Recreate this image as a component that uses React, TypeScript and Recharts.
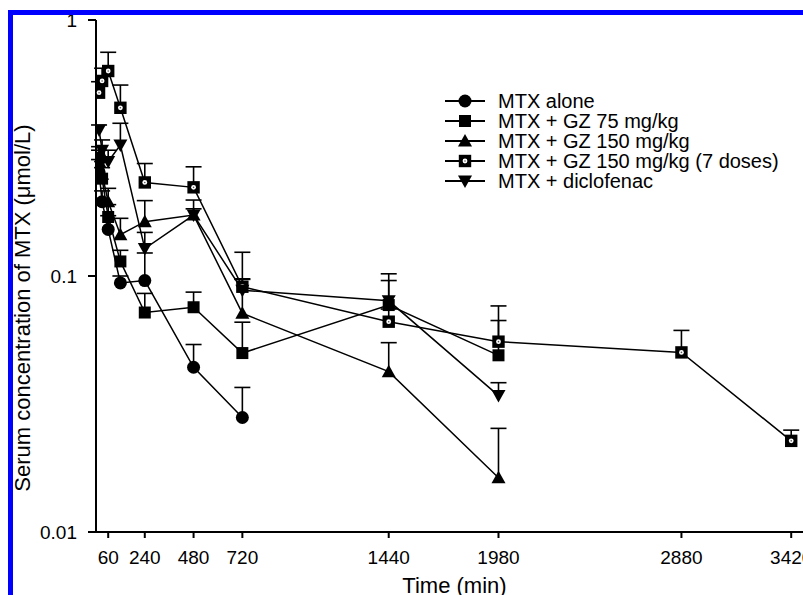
import React from 'react';
import { LineChart, Line, XAxis, YAxis, ErrorBar, Legend } from 'recharts';

// ---- data (time in min, serum MTX in µmol/L, upward SD) ----
const timeTicks = [60, 240, 480, 720, 1440, 1980, 2880, 3420];
const concTicks = [0.01, 0.1, 1];

const timesAlone = [15, 30, 60, 120, 240, 480, 720];
const timesGroup = [15, 30, 60, 120, 240, 480, 720, 1440, 1980];
const times7 = [15, 30, 60, 120, 240, 480, 720, 1440, 1980, 2880, 3420];

const mtxAlone = [0.255, 0.195, 0.152, 0.094, 0.096, 0.044, 0.028];
const mtxAloneSd = [0.03, 0.02, 0.02, 0.006, 0.027, 0.01, 0.0087];

const gz75 = [0.29, 0.24, 0.17, 0.114, 0.072, 0.0755, 0.05, 0.077, 0.049];
const gz75Sd = [0.03, 0.025, 0.02, 0.012, 0.0135, 0.011, 0.016, 0.019, 0.018];

const gz150 = [0.28, 0.25, 0.195, 0.145, 0.163, 0.173, 0.0715, 0.0423, 0.0163];
const gz150Sd = [0.03, 0.03, 0.025, 0.023, 0.034, 0.025, 0.026, 0.0126, 0.0091];

const gz150x7 = [0.52, 0.578, 0.632, 0.454, 0.232, 0.222, 0.0908, 0.0663, 0.0554, 0.0503, 0.0227];
const gz150x7Sd = [0.054, 0.07, 0.116, 0.103, 0.043, 0.045, 0.033, 0.008, 0.021, 0.011, 0.0023];

const diclofenac = [0.372, 0.31, 0.28, 0.325, 0.128, 0.173, 0.088, 0.08, 0.0341];
const diclofenacSd = [0.017, 0.03, 0.03, 0.07, 0.02, 0.01, 0.009, 0.022, 0.0042];

const seriesNames = [
  'MTX alone',
  'MTX + GZ 75 mg/kg',
  'MTX + GZ 150 mg/kg',
  'MTX + GZ 150 mg/kg (7 doses)',
  'MTX + diclofenac',
];
const seriesShapes = ['circle', 'square', 'triangle', 'squareDot', 'triangleDown'];

function build(times: number[], vals: number[], sds: number[]) {
  return times.map((t, i) => ({ t, v: vals[i], e: [0, sds[i]] }));
}

const seriesData = [
  build(timesAlone, mtxAlone, mtxAloneSd),
  build(timesGroup, gz75, gz75Sd),
  build(timesGroup, gz150, gz150Sd),
  build(times7, gz150x7, gz150x7Sd),
  build(timesGroup, diclofenac, diclofenacSd),
];

const FONT = '"Liberation Sans", Arial, sans-serif';

function Marker({ shape, cx, cy }: { shape: string; cx: number; cy: number }) {
  switch (shape) {
    case 'circle':
      return <circle cx={cx} cy={cy} r={6.5} fill="#000" />;
    case 'square':
      return <rect x={cx - 6} y={cy - 6} width={12} height={12} fill="#000" />;
    case 'triangle':
      return (
        <polygon
          points={`${cx},${cy - 7} ${cx - 7},${cy + 5.5} ${cx + 7},${cy + 5.5}`}
          fill="#000"
        />
      );
    case 'squareDot':
      return (
        <g>
          <rect x={cx - 6.2} y={cy - 6.2} width={12.4} height={12.4} fill="#000" />
          <circle cx={cx} cy={cy} r={2.4} fill="#fff" />
          <circle cx={cx} cy={cy} r={0.8} fill="#555" />
        </g>
      );
    case 'triangleDown':
    default:
      return (
        <polygon
          points={`${cx - 7},${cy - 5.5} ${cx + 7},${cy - 5.5} ${cx},${cy + 7}`}
          fill="#000"
        />
      );
  }
}

function makeDot(shape: string) {
  return (props: any) => {
    const { cx, cy, index } = props;
    if (cx == null || cy == null) return <g key={`d-${shape}-${index}`} />;
    return (
      <g key={`d-${shape}-${index}`}>
        <Marker shape={shape} cx={cx} cy={cy} />
      </g>
    );
  };
}

function LegendContent() {
  return (
    <div style={{ fontFamily: FONT, fontSize: 20, color: '#000' }}>
      {seriesNames.map((name, i) => (
        <div
          key={name}
          style={{ display: 'flex', alignItems: 'center', height: 20, whiteSpace: 'nowrap' }}
        >
          <svg width={53} height={20} style={{ display: 'block' }}>
            <line x1={0} y1={10} x2={40} y2={10} stroke="#000" strokeWidth={2} />
            <Marker shape={seriesShapes[i]} cx={20} cy={10} />
          </svg>
          <span style={{ lineHeight: '20px' }}>{name}</span>
        </div>
      ))}
    </div>
  );
}

function YTitle(props: any) {
  const vb = props.viewBox || { y: 20, height: 512 };
  const cy = vb.y + vb.height / 2 + 32;
  const x = 30;
  return (
    <text
      x={x}
      y={cy}
      transform={`rotate(-90 ${x} ${cy})`}
      textAnchor="middle"
      fill="#000"
      style={{ fontFamily: FONT, fontSize: 22 }}
    >
      Serum concentration of MTX (μmol/L)
    </text>
  );
}

export default function App() {
  return (
    <div
      style={{
        position: 'absolute',
        left: 0,
        top: 0,
        width: 803,
        height: 595,
        overflow: 'hidden',
        background: '#fff',
      }}
    >
      <style>{`.recharts-errorBar line:nth-of-type(3){display:none}`}</style>
      <LineChart
        width={803}
        height={595}
        margin={{ top: 20, right: 0, bottom: 0, left: 0 }}
        style={{ fontFamily: FONT }}
      >
        <XAxis
          type="number"
          dataKey="t"
          domain={[0, 3478]}
          allowDataOverflow
          ticks={timeTicks}
          interval={0}
          height={63}
          axisLine={{ stroke: '#000', strokeWidth: 2 }}
          tickLine={{ stroke: '#000', strokeWidth: 2 }}
          tickSize={6}
          tickMargin={13}
          tick={{ fill: '#000', fontSize: 19, fontFamily: FONT }}
          label={{
            value: 'Time (min)',
            position: 'insideBottom',
            offset: 2,
            dx: 5,
            fill: '#000',
            fontSize: 22,
            fontFamily: FONT,
          }}
        />
        <YAxis
          type="number"
          scale="log"
          domain={[0.01, 1]}
          allowDataOverflow
          ticks={concTicks}
          interval={0}
          width={96}
          axisLine={{ stroke: '#000', strokeWidth: 2 }}
          tickLine={{ stroke: '#000', strokeWidth: 2 }}
          tickSize={8}
          tickMargin={11}
          tick={{ fill: '#000', fontSize: 19, fontFamily: FONT }}
          tickFormatter={(v: number) => String(v)}
          label={<YTitle />}
        />
        <Legend
          layout="vertical"
          align="center"
          verticalAlign="middle"
          content={() => <LegendContent />}
          wrapperStyle={{ position: 'absolute', left: 445, top: 91, width: 350, height: 100 }}
        />
        {seriesData.map((d, i) => (
          <Line
            key={seriesNames[i]}
            name={seriesNames[i]}
            data={d}
            dataKey="v"
            type="linear"
            stroke="#000"
            strokeWidth={1.5}
            dot={makeDot(seriesShapes[i])}
            activeDot={false}
            isAnimationActive={false}
          >
            <ErrorBar
              dataKey="e"
              direction="y"
              width={8}
              stroke="#000"
              strokeWidth={1.6}
              isAnimationActive={false}
            />
          </Line>
        ))}
      </LineChart>
      <div style={{ position: 'absolute', left: 8, top: 10, width: 795, height: 5, background: '#0000ff' }} />
      <div style={{ position: 'absolute', left: 8, top: 10, width: 5, height: 585, background: '#0000ff' }} />
    </div>
  );
}
